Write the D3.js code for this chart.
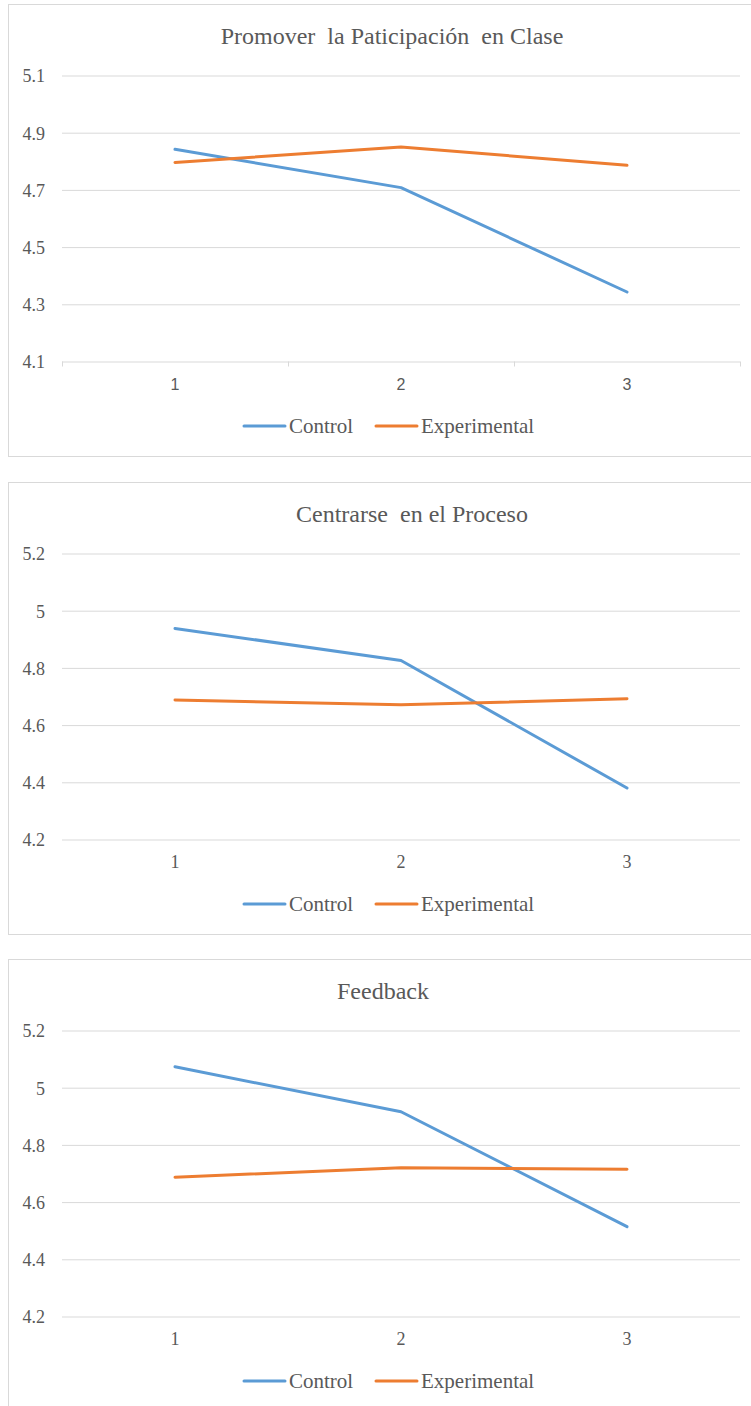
<!DOCTYPE html>
<html>
<head>
<meta charset="utf-8">
<script src="https://cdn.jsdelivr.net/npm/d3@7"></script>
<style>
  html, body { margin: 0; padding: 0; background: #fff; }
  svg { display: block; }
  text { white-space: pre; }
</style>
</head>
<body>
<svg id="chart" width="751" height="1406"></svg>
<script>
// Measurement occasions on the x axis
const occasions = ["1", "2", "3"];
const seriesNames = ["Control", "Experimental"];

// Mean scores per panel
const titles = ["Promover  la Paticipación  en Clase", "Centrarse  en el Proceso", "Feedback"];
const controlParticipacion = [4.842, 4.708, 4.343];
const experimentalParticipacion = [4.796, 4.850, 4.786];
const controlProceso = [4.938, 4.826, 4.380];
const experimentalProceso = [4.688, 4.671, 4.692];
const controlFeedback = [5.073, 4.916, 4.514];
const experimentalFeedback = [4.687, 4.720, 4.715];

// Y axis ticks per panel
const ticksParticipacion = [4.1, 4.3, 4.5, 4.7, 4.9, 5.1];
const tickLabelsParticipacion = ["4.1", "4.3", "4.5", "4.7", "4.9", "5.1"];
const ticksOther = [4.2, 4.4, 4.6, 4.8, 5.0, 5.2];
const tickLabelsOther = ["4.2", "4.4", "4.6", "4.8", "5", "5.2"];

const colors = { Control: "#5B9BD5", Experimental: "#ED7D31" };
const grid = "#D9D9D9";
const ink = "#595959";
const serif = "'Liberation Serif', 'Times New Roman', serif";
const sans = "'Liberation Sans', Arial, sans-serif";

const panels = [
  { title: titles[0], titleX: 392, top: 4, control: controlParticipacion, experimental: experimentalParticipacion,
    ticks: ticksParticipacion, labels: tickLabelsParticipacion, axisLine: true, xFont: sans, xSize: 16 },
  { title: titles[1], titleX: 412, top: 482, control: controlProceso, experimental: experimentalProceso,
    ticks: ticksOther, labels: tickLabelsOther, axisLine: false, xFont: serif, xSize: 18 },
  { title: titles[2], titleX: 383, top: 959, control: controlFeedback, experimental: experimentalFeedback,
    ticks: ticksOther, labels: tickLabelsOther, axisLine: false, xFont: serif, xSize: 18 }
];

const svg = d3.select("#chart");
const plotLeft = 62, plotRight = 740;

panels.forEach(p => {
  const g = svg.append("g").attr("transform", `translate(0,${p.top})`);

  // chart frame
  g.append("rect")
    .attr("x", 8.5).attr("y", 0.5)
    .attr("width", 760).attr("height", 452)
    .attr("fill", "#fff").attr("stroke", grid).attr("stroke-width", 1);

  g.append("text")
    .attr("x", p.titleX).attr("y", 40)
    .attr("text-anchor", "middle")
    .attr("font-family", serif).attr("font-size", 24)
    .attr("fill", ink)
    .text(p.title);

  const x = d3.scaleBand().domain(occasions).range([plotLeft, plotRight]).padding(0);
  const y = d3.scaleLinear().domain([p.ticks[0], p.ticks[p.ticks.length - 1]]).range([357.5, 71.5]);

  // horizontal gridlines with value labels
  const yAxis = d3.axisLeft(y).tickValues(p.ticks)
    .tickFormat((d, i) => p.labels[i])
    .tickSize(-(plotRight - plotLeft)).tickPadding(17);
  const ya = g.append("g").attr("transform", `translate(${plotLeft},0)`).call(yAxis);
  ya.select(".domain").remove();
  ya.selectAll(".tick line").attr("stroke", grid).attr("stroke-width", 1);
  ya.selectAll(".tick text")
    .attr("font-family", serif).attr("font-size", 18).attr("fill", ink)
    .attr("dy", "0.35em");

  // category axis
  const xa = g.append("g").attr("transform", `translate(0,${y(p.ticks[0])})`)
    .call(d3.axisBottom(x).tickSize(0).tickPadding(25));
  xa.select(".domain").remove();
  xa.selectAll(".tick text")
    .attr("font-family", p.xFont).attr("font-size", p.xSize).attr("fill", ink)
    .attr("dy", "0.2em");

  if (p.axisLine) {
    const bounds = [plotLeft, ...occasions.map(o => x(o) + x.bandwidth())];
    g.selectAll(".xtick").data(bounds).join("line")
      .attr("x1", d => d + 0.5).attr("x2", d => d + 0.5)
      .attr("y1", y(p.ticks[0])).attr("y2", y(p.ticks[0]) + 5)
      .attr("stroke", grid).attr("stroke-width", 1);
  }

  const line = d3.line()
    .x((d, i) => x(occasions[i]) + x.bandwidth() / 2)
    .y(d => y(d));

  [["Control", p.control], ["Experimental", p.experimental]].forEach(([name, vals]) => {
    g.append("path")
      .datum(vals)
      .attr("d", line)
      .attr("fill", "none")
      .attr("stroke", colors[name])
      .attr("stroke-width", 3)
      .attr("stroke-linejoin", "round")
      .attr("stroke-linecap", "round");
  });

  // legend
  const legendItems = [{ name: seriesNames[0], x: 244 }, { name: seriesNames[1], x: 376 }];
  const lg = g.append("g").attr("transform", "translate(0,422)");
  legendItems.forEach(it => {
    lg.append("line")
      .attr("x1", it.x).attr("x2", it.x + 41)
      .attr("y1", 0).attr("y2", 0)
      .attr("stroke", colors[it.name]).attr("stroke-width", 3)
      .attr("stroke-linecap", "round");
    lg.append("text")
      .attr("x", it.x + 45).attr("y", 7)
      .attr("font-family", serif).attr("font-size", 21)
      .attr("fill", ink)
      .text(it.name);
  });
});
</script>
</body>
</html>
